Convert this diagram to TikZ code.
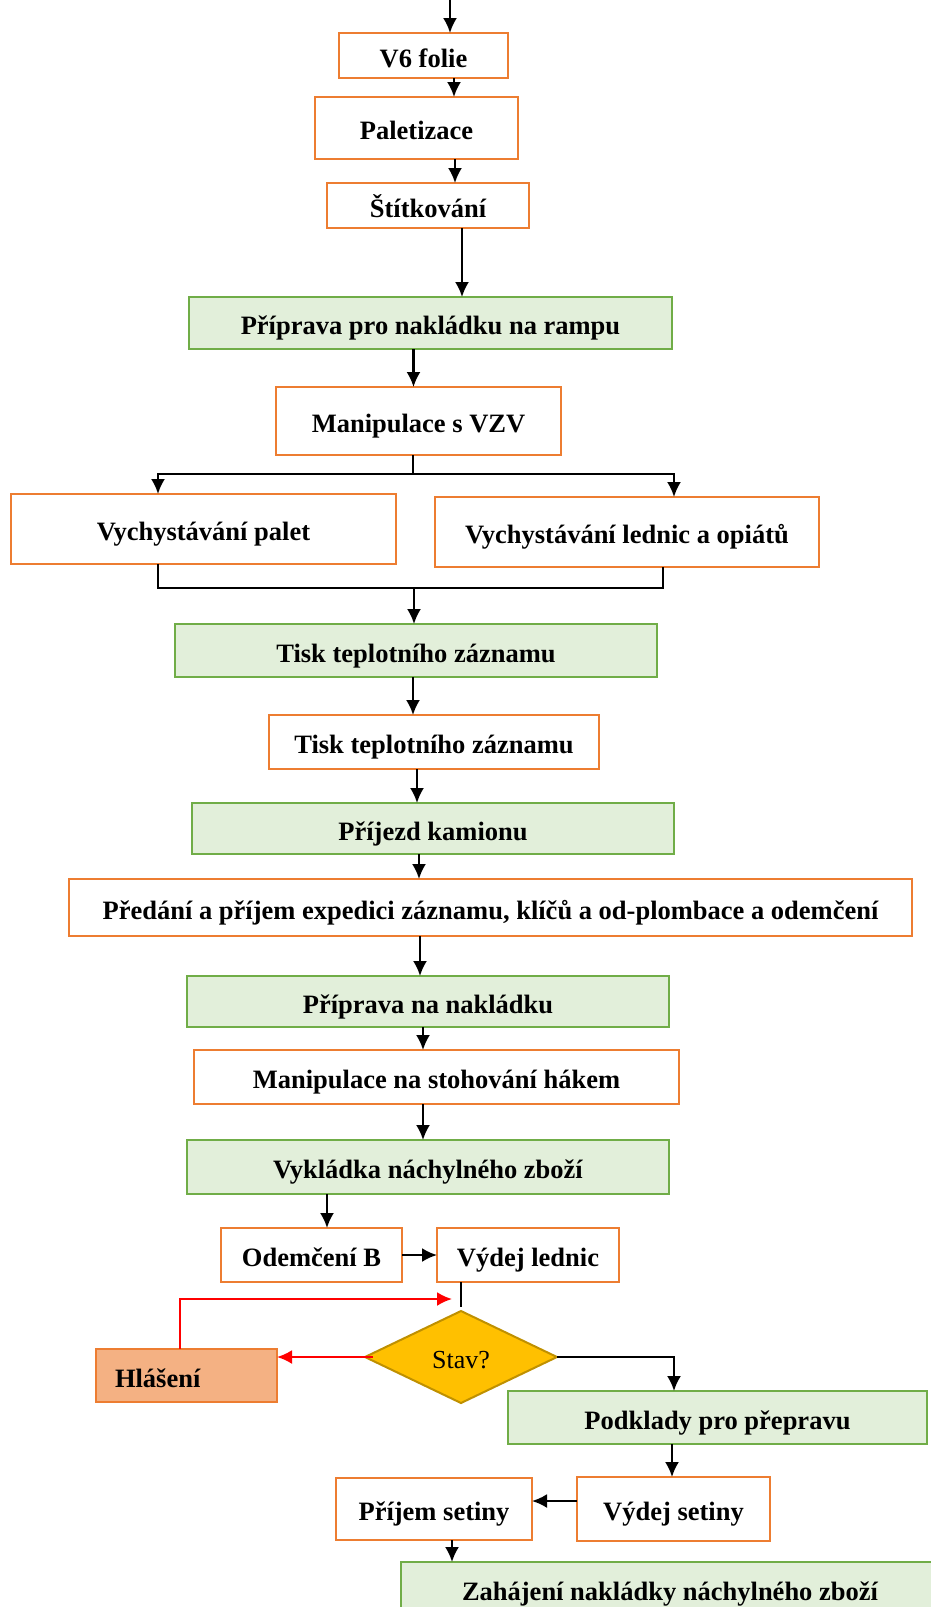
\documentclass[tikz,border=0pt]{standalone}
\usepackage{fontspec}
\setmainfont{Liberation Serif}
\usetikzlibrary{arrows.meta,positioning,shapes.geometric}
\definecolor{orangeline}{HTML}{ED7D31}
\definecolor{greenline}{HTML}{70AD47}
\definecolor{greenfill}{HTML}{E2EFDA}
\definecolor{alertfill}{HTML}{F4B183}
\definecolor{diamondfill}{HTML}{FFC000}
\definecolor{diamondline}{HTML}{BF9000}

\begin{document}
\begin{tikzpicture}[
				node distance=30pt and 40pt,
				boxsize/.style 2 args={minimum width=#1pt, minimum height=#2pt},
				block/.style={draw=orangeline, line width=2.4pt, outer sep=0pt, inner sep=2pt, text height=27pt, text depth=4pt, align=center, font=\bfseries\fontsize{26.5}{30}\selectfont},
				greenblock/.style={block, draw=greenline, fill=greenfill},
				alertblock/.style={block, fill=alertfill, text width=143pt, align=left},
				decision/.style={diamond, aspect=2, draw=diamondline, fill=diamondfill, line width=2pt, outer sep=0pt, inner sep=0pt, text height=26pt, text depth=4pt, minimum width=192pt, minimum height=92pt, font=\fontsize{26}{30}\selectfont},
				arr/.style={-{Latex[length=15pt,width=14pt]}, line width=2.2pt},
				conn/.style={line width=2.2pt},
				redarr/.style={arr, red}	]
				\useasboundingbox (0,0) rectangle (931pt,-1607pt);
				\node[block, boxsize={169}{45}] (v6) at (423.5pt,-55.5pt) {V6 folie};
				\node[block, boxsize={203}{62}, below=19pt of v6, xshift=-7pt] (palet) {Paletizace};
				\node[block, boxsize={202}{45}, below=24pt of palet, xshift=11.5pt] (stitek) {Štítkování};
				\node[greenblock, boxsize={483}{52}, below=69pt of stitek, xshift=2.5pt] (rampa) {Příprava pro nakládku na rampu};
				\node[block, boxsize={285}{68}, below=38pt of rampa, xshift=-12pt] (vzv) {Manipulace s VZV};
				\node[block, boxsize={385}{70}, below=39pt of vzv, xshift=-215pt] (palety) {Vychystávání palet};
				\node[block, boxsize={384}{70}, right=39pt of palety, yshift=-3pt] (lednice) {Vychystávání lednic a opiátů};
				\node[greenblock, boxsize={482}{53}, below=169pt of vzv, xshift=-2.5pt] (tisk1) {Tisk teplotního záznamu};
				\node[block, boxsize={330}{54}, below=38pt of tisk1, xshift=18pt] (tisk2) {Tisk teplotního záznamu};
				\node[greenblock, boxsize={482}{51}, below=34pt of tisk2, xshift=-1pt] (kamion) {Příjezd kamionu};
				\node[block, boxsize={843}{57}, below=25pt of kamion, xshift=57.5pt] (predani) {Předání a příjem expedici záznamu, klíčů a od-plombace a odemčení};
				\node[greenblock, boxsize={482}{51}, below=40pt of predani, xshift=-62.5pt] (priprava) {Příprava na nakládku};
				\node[block, boxsize={485}{54}, below=23pt of priprava, xshift=8.5pt] (hak) {Manipulace na stohování hákem};
				\node[greenblock, boxsize={482}{54}, below=36pt of hak, xshift=-8.5pt] (vykladka) {Vykládka náchylného zboží};
				\node[block, boxsize={181}{54}, below=34pt of vykladka, xshift=-116.5pt] (odemB) {Odemčení B};
				\node[block, boxsize={182}{54}, right=35pt of odemB] (lednic) {Výdej lednic};
				\node[decision, below=29pt of lednic, xshift=-67pt] (stav) {Stav?};
				\node[alertblock, boxsize={181}{53}, left=88pt of stav, yshift=-18.5pt] (hlaseni) {Hlášení};
				\node[greenblock, boxsize={419}{53}, below=109pt of lednic, xshift=189.5pt] (podklady) {Podklady pro přepravu};
				\node[block, boxsize={193}{64}, below=33pt of podklady, xshift=-44pt] (vydset) {Výdej setiny};
				\node[block, boxsize={196}{62}, left=45pt of vydset] (prijset) {Příjem setiny};
				\node[greenblock, boxsize={538}{53}, below=22pt of prijset, xshift=236pt] (zahajeni) {Zahájení nakládky náchylného zboží};
				
				\coordinate (in) at ([xshift=26.5pt, yshift=33pt]v6.north);
				\coordinate (back) at ([xshift=-9pt, yshift=12pt]stav.north);
				
				\draw[arr] (in) -- (in |- v6.north);
				\draw[arr] ([xshift=30.5pt]v6.south) -- ([xshift=30.5pt]v6.south |- palet.north);
				\draw[arr] ([xshift=38.5pt]palet.south) -- ([xshift=38.5pt]palet.south |- stitek.north);
				\draw[arr] ([xshift=34pt]stitek.south) -- ([xshift=34pt]stitek.south |- rampa.north);
				\draw[arr] ([xshift=-17pt]rampa.south) -- ([xshift=-17pt]rampa.south |- vzv.north);
				\draw[conn] ([xshift=-5.5pt]vzv.south) -- ++(0,-19pt) coordinate (split);
				\draw[arr] (split) -| ([xshift=-45.5pt]palety.north);
				\draw[arr] (split) -| ([xshift=47pt]lednice.north);
				\draw[conn] ([xshift=-45.5pt]palety.south) -- ++(0,-24pt) coordinate (join) -| ([xshift=36pt]lednice.south);
				\draw[arr] ([xshift=-2pt]tisk1.north |- join) -- ([xshift=-2pt]tisk1.north);
				\draw[arr] ([xshift=-3pt]tisk1.south) -- ([xshift=-3pt]tisk1.south |- tisk2.north);
				\draw[arr] ([xshift=-17pt]tisk2.south) -- ([xshift=-17pt]tisk2.south |- kamion.north);
				\draw[arr] ([xshift=-14pt]kamion.south) -- ([xshift=-14pt]kamion.south |- predani.north);
				\draw[arr] ([xshift=-70.5pt]predani.south) -- ([xshift=-70.5pt]predani.south |- priprava.north);
				\draw[arr] ([xshift=-5pt]priprava.south) -- ([xshift=-5pt]priprava.south |- hak.north);
				\draw[arr] ([xshift=-13.5pt]hak.south) -- ([xshift=-13.5pt]hak.south |- vykladka.north);
				\draw[arr] ([xshift=-101pt]vykladka.south) -- ([xshift=-101pt]vykladka.south |- odemB.north);
				\draw[arr] (odemB.east) -- (lednic.west);
				\draw[conn] (lednic.south -| stav.north) -- ([yshift=4pt]stav.north);
				\draw[redarr] ([xshift=8pt]stav.west) -- (stav.west -| hlaseni.east);
				\draw[redarr] ([xshift=-6.5pt]hlaseni.north) |- (back);
				\draw[arr] (stav.east) -| ([xshift=-43.5pt]podklady.north);
				\draw[arr] ([xshift=-45.5pt]podklady.south) -- ([xshift=-45.5pt]podklady.south |- vydset.north);
				\draw[arr] ([yshift=8pt]vydset.west) -- ([yshift=8pt]vydset.west -| prijset.east);
				\draw[arr] ([xshift=18pt]prijset.south) -- ([xshift=18pt]prijset.south |- zahajeni.north);
			\end{tikzpicture}
\end{document}
